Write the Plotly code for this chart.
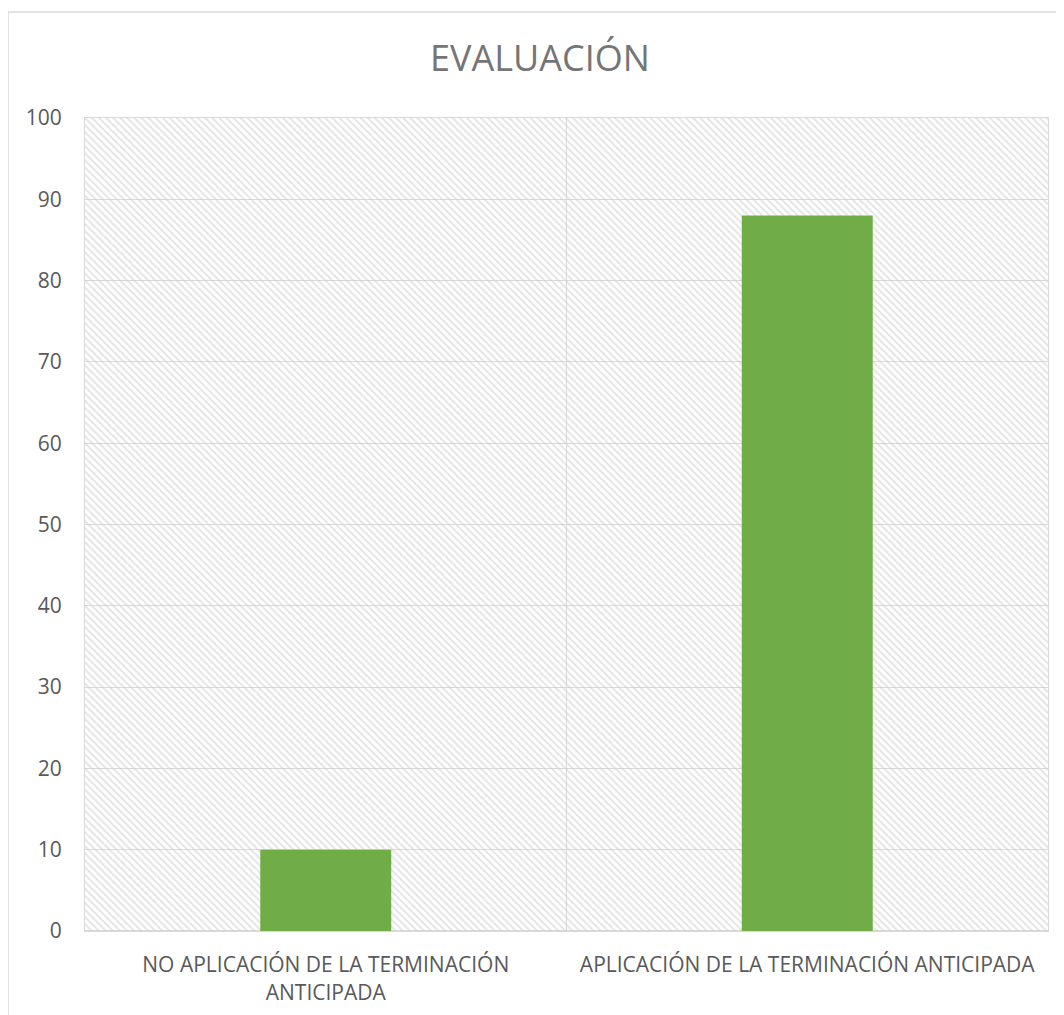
import plotly.graph_objects as go

categories = ["NO APLICACIÓN DE LA TERMINACIÓN<br>ANTICIPADA",
              "APLICACIÓN DE LA TERMINACIÓN ANTICIPADA"]
values = [10, 88]
y_ticks = [0, 10, 20, 30, 40, 50, 60, 70, 80, 90, 100]
title_text = "EVALUACIÓN"

Y_MAX = 100
GRID = "#d9d9d9"
TEXT = "#595959"
FONT = "Open Sans, DejaVu Sans, sans-serif"

fig = go.Figure()

# hatched plot-area background (spans the full axis range)
fig.add_trace(go.Bar(
    x=categories, y=[Y_MAX] * len(categories), width=1,
    marker=dict(color="rgba(0,0,0,0)", line=dict(width=0),
                pattern=dict(shape="\\", fgcolor="#cacaca", bgcolor="rgba(0,0,0,0)",
                             size=5, solidity=0.4)),
    hoverinfo="skip", showlegend=False,
))

fig.add_trace(go.Bar(
    x=categories, y=values, width=0.272,
    marker=dict(color="#70ad47", line=dict(width=0)),
    showlegend=False,
))

# page offset of the figure is 8px (browser body margin)
OFF = 8
W, H = 1064, 1015
L, R, T, B = 85 - OFF, W - (1048 - OFF), 118 - OFF, H - (931 - OFF)
pw, ph = W - L - R, H - T - B

fig.update_layout(
    width=W, height=H,
    margin=dict(l=L, r=R, t=T, b=B),
    barmode="overlay",
    paper_bgcolor="white", plot_bgcolor="white",
    font=dict(family=FONT, color=TEXT, size=21),
    title=dict(text=title_text, x=(540 - OFF) / W, xanchor="center",
               y=1 - (58 - OFF) / H, yanchor="middle",
               font=dict(family=FONT, size=36, color="#757575")),
    xaxis=dict(tickson="boundaries", showgrid=True, gridcolor=GRID, gridwidth=1,
               showline=True, linecolor=GRID, mirror=True, automargin=False,
               ticks="", ticklabelstandoff=15,
               tickfont=dict(size=21, color=TEXT, family=FONT)),
    yaxis=dict(range=[0, Y_MAX], tickvals=y_ticks, showgrid=True, gridcolor=GRID, gridwidth=1,
               zeroline=True, zerolinecolor=GRID, showline=True, linecolor=GRID, mirror=True,
               automargin=False,
               ticks="outside", ticklen=18, tickcolor="rgba(0,0,0,0)",
               tickfont=dict(size=21, color=TEXT, family=FONT)),
    shapes=[dict(type="rect", xref="paper", yref="paper",
                 x0=(8 - OFF - L) / pw, x1=(W + 10 - L) / pw,
                 y0=-(B + 10) / ph, y1=1 + (T - (12 - OFF)) / ph,
                 line=dict(color=GRID, width=1.5), fillcolor="rgba(0,0,0,0)", layer="below")],
)

fig.write_html("out.html")
